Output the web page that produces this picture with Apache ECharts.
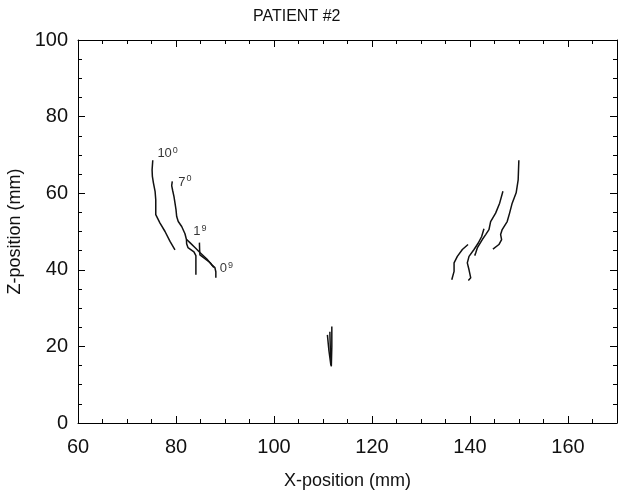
<!DOCTYPE html>
<html><head><meta charset="utf-8">
<script src="https://cdn.jsdelivr.net/npm/echarts@6/dist/echarts.min.js"></script>
<style>html,body{margin:0;padding:0;background:#fff}#c{width:618px;height:492px}</style>
</head><body><div id="c"></div>
<script>
const titleText = 'PATIENT #2';
const xName = 'X-position (mm)';
const yName = 'Z-position (mm)';
const xTickLabels = [60, 80, 100, 120, 140, 160];
const yTickLabels = [0, 20, 40, 60, 80, 100];

// left-side tracks
const left10 = [[75.26,68.6],[75.12,66.1],[75.18,64.4],[75.39,62.7],[75.73,60.5],[75.87,58.3],[75.87,54.4],[76.07,53.9],[76.74,52.2],[77.76,50.0],[78.78,47.4],[79.79,45.2]];
const left7 = [[79.24,63.1],[79.12,62.0],[79.32,60.7],[79.59,59.1],[79.79,57.5],[80.0,55.7],[80.14,53.9],[80.46,52.6],[81.16,51.3],[81.83,49.4],[82.13,47.9],[82.17,46.8],[82.44,45.8],[83.66,44.7],[84.06,43.7],[84.06,41.3],[84.06,38.7]];
const left0 = [[82.17,47.9],[82.84,47.1],[83.86,45.8],[84.88,44.5],[86.24,42.9],[87.32,41.3],[87.93,40.6],[88.13,39.5],[88.13,37.9]];
const left1 = [[84.78,47.1],[84.82,45.3],[84.88,43.9],[85.9,42.9],[86.91,41.9],[87.73,40.6]];
// central tracks
const mid1 = [[111.8,25.2],[111.8,20.0],[111.7,14.8]];
const mid2 = [[111.4,23.8],[111.5,19.0],[111.7,14.8]];
const mid3 = [[110.9,23.0],[111.2,19.0],[111.6,15.2]];
// right-side tracks
const right1 = [[149.97,68.6],[149.83,63.5],[149.42,60.1],[148.61,57.4],[148.08,54.8],[147.59,52.6],[146.57,50.5],[146.25,49.2],[146.45,47.9],[145.9,46.6],[144.68,45.4]];
const right2 = [[146.72,60.5],[146.05,57.4],[145.23,54.8],[144.21,52.6],[143.87,50.5],[143.2,49.2],[142.51,47.9],[141.49,45.7],[141.16,44.4],[140.96,43.7]];
const right3 = [[142.85,50.7],[142.38,48.7],[141.69,47.0],[140.82,45.3],[139.8,43.5],[139.45,41.8],[139.8,40.0],[140.15,37.9],[139.66,37.2]];
const right4 = [[139.6,46.6],[138.44,45.3],[137.42,43.5],[136.75,41.8],[136.75,39.6],[136.28,37.4]];

const labelMain = ['10', '7', '1', '0'];
const labelSup = ['0', '0', '9', '9'];
const labelPos = [[76.2,70.3],[80.46,62.9],[83.52,49.9],[88.95,40.3]];

const tracks = [left10, left7, left0, left1, mid1, mid2, mid3, right1, right2, right3, right4];

const FF = '"Liberation Sans", Arial, Helvetica, sans-serif';
const lineCol = '#111';
const textCol = '#111';

function xAxisDef(pos, interval, len, withLabels, showLine) {
  return {
    type: 'value', position: pos, min: 60, max: 170, interval: interval,
    axisLine: { show: showLine, onZero: false, lineStyle: { color: '#000', width: 1 } },
    axisTick: { show: true, inside: true, length: len, lineStyle: { color: '#000', width: 1 } },
    axisLabel: withLabels ? {
      show: true, fontSize: 20, color: textCol, fontFamily: FF, margin: 14,
      formatter: v => xTickLabels.indexOf(v) >= 0 ? String(v) : ''
    } : { show: false },
    splitLine: { show: false },
    name: withLabels ? xName : '', nameLocation: 'middle', nameGap: 49,
    nameTextStyle: { fontSize: 18, color: textCol, fontFamily: FF }
  };
}
function yAxisDef(pos, withLabels) {
  return {
    type: 'value', position: pos, min: 0, max: 100, interval: 20,
    axisLine: { show: true, onZero: false, lineStyle: { color: '#000', width: 1 } },
    axisTick: { show: true, inside: true, length: 7, lineStyle: { color: '#000', width: 1 } },
    minorTick: { show: true, splitNumber: 4, length: 4, lineStyle: { color: '#000', width: 1 } },
    axisLabel: withLabels ? {
      show: true, fontSize: 20, color: textCol, fontFamily: FF, margin: 10,
      formatter: v => yTickLabels.indexOf(v) >= 0 ? String(v) : ''
    } : { show: false },
    splitLine: { show: false },
    name: withLabels ? yName : '', nameLocation: 'middle', nameGap: 47,
    nameTextStyle: { fontSize: 18, color: textCol, fontFamily: FF }
  };
}

const series = tracks.map(t => ({
  type: 'line', xAxisIndex: 0, yAxisIndex: 0, data: t, showSymbol: false, symbol: 'none',
  lineStyle: { color: lineCol, width: 1.5 }, silent: true, animation: false
}));
series.push({
  type: 'scatter', xAxisIndex: 0, yAxisIndex: 0, symbolSize: 0, silent: true, animation: false,
  data: labelPos.map(p => ({ value: p })),
  label: {
    show: true, position: 'right', distance: 0, color: '#000',
    formatter: p => '{n|' + labelMain[p.dataIndex] + '}{s|' + labelSup[p.dataIndex] + '}',
    rich: {
      n: { fontSize: 13, color: '#000', fontFamily: FF },
      s: { fontSize: 9, color: '#000', fontFamily: FF, padding: [0, 0, 7, 1] }
    }
  }
});

const chart = echarts.init(document.getElementById('c'), null, { renderer: 'canvas' });
chart.setOption({
  backgroundColor: '#fff',
  animation: false,
  title: { text: titleText, left: 248, top: 4, textStyle: { fontSize: 16, fontWeight: 'normal', color: textCol, fontFamily: FF } },
  grid: { left: 78, top: 40, width: 539, height: 383, containLabel: false, outerBoundsMode: 'none' },
  xAxis: [
    xAxisDef('bottom', 20, 7, true, true),
    xAxisDef('bottom', 5, 4, false, false),
    xAxisDef('top', 20, 7, false, true),
    xAxisDef('top', 5, 4, false, false)
  ],
  yAxis: [yAxisDef('left', true), yAxisDef('right', false)],
  series: series
});
</script></body></html>
